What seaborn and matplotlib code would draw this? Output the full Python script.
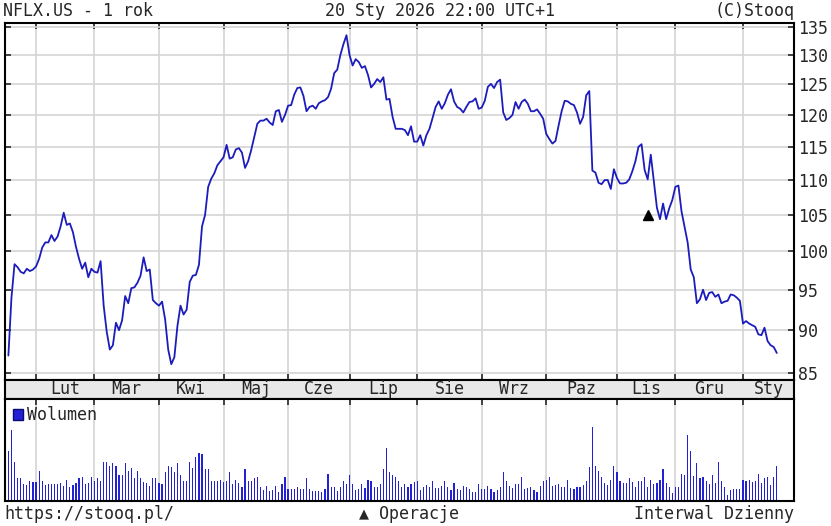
import numpy as np
import pandas as pd
import matplotlib
matplotlib.use('Agg')
import matplotlib.pyplot as plt
from matplotlib.patches import Patch
from matplotlib.ticker import NullLocator
import seaborn as sns

# NFLX.US daily closes (split adjusted)
START, END = '2025-01-21', '2026-01-20'
NYSE_HOLIDAYS = ['2025-02-17', '2025-04-18', '2025-05-26', '2025-06-19', '2025-07-04',
                 '2025-09-01', '2025-11-27', '2025-12-25', '2026-01-01', '2026-01-19']

CLOSE = [
    87.0, 94.0, 98.3, 97.9, 97.3, 97.1, 97.7, 97.4, 97.6, 98.0,
    99.0, 100.5, 101.2, 101.2, 102.2, 101.4, 102.0, 103.4, 105.3, 103.6,
    103.8, 102.6, 100.6, 99.0, 97.7, 98.5, 96.6, 97.7, 97.3, 97.2,
    98.7, 93.0, 89.8, 87.7, 88.2, 90.9, 90.0, 91.2, 94.2, 93.3,
    95.2, 95.3, 95.9, 96.8, 99.2, 97.4, 97.6, 93.7, 93.3, 93.0,
    93.5, 91.3, 87.7, 86.0, 86.8, 90.5, 93.0, 91.9, 92.5, 96.0,
    96.8, 96.9, 98.2, 103.4, 105.0, 109.0, 110.2, 111.0, 112.2, 112.8,
    113.4, 115.3, 113.2, 113.4, 114.6, 114.8, 114.1, 111.8, 112.8, 114.5,
    116.5, 118.6, 119.1, 119.1, 119.4, 118.8, 118.4, 120.6, 120.8, 118.9,
    120.0, 121.5, 121.6, 123.3, 124.4, 124.5, 123.1, 120.6, 121.3, 121.5,
    121.0, 121.9, 122.2, 122.4, 122.9, 124.3, 126.9, 127.5, 130.0, 131.9,
    133.5, 130.0, 128.2, 129.3, 128.8, 127.8, 128.1, 126.6, 124.5, 125.1,
    125.9, 125.4, 126.2, 122.5, 122.6, 119.7, 117.8, 117.8, 117.8, 117.6,
    116.8, 118.2, 115.8, 115.8, 116.8, 115.2, 116.8, 117.8, 119.5, 121.3,
    122.2, 121.0, 121.9, 123.3, 124.2, 122.2, 121.3, 121.0, 120.4, 121.3,
    122.1, 122.2, 122.7, 121.0, 121.2, 122.3, 124.6, 125.1, 124.4, 125.4,
    125.8, 120.4, 119.2, 119.5, 120.0, 122.1, 121.0, 122.1, 122.5, 121.8,
    120.6, 120.6, 120.9, 120.2, 119.4, 117.0, 116.2, 115.5, 115.9, 118.3,
    120.6, 122.3, 122.2, 121.8, 121.6, 120.4, 118.6, 119.7, 123.2, 123.9,
    111.4, 111.1, 109.6, 109.4, 110.0, 110.0, 108.7, 111.6, 110.3, 109.5,
    109.5, 109.6, 110.1, 111.3, 112.8, 115.0, 115.4, 111.5, 110.1, 113.8,
    109.8, 106.0, 104.4, 106.6, 104.4, 105.9, 107.1, 109.0, 109.2, 105.5,
    103.3, 101.2, 97.6, 96.6, 93.3, 93.8, 95.0, 93.7, 94.6, 94.7,
    94.1, 94.4, 93.3, 93.5, 93.6, 94.4, 94.3, 94.0, 93.6, 90.8,
    91.1, 90.8, 90.6, 90.4, 89.5, 89.4, 90.3, 88.7, 88.2, 88.0,
    87.3,
]

# volume bars, relative heights (no scale shown on the chart)
VOLUME = [
    50, 71, 39, 23, 23, 17, 16, 20, 19, 19,
    30, 20, 16, 17, 17, 17, 17, 18, 15, 21,
    14, 16, 18, 23, 24, 17, 18, 24, 20, 23,
    20, 39, 39, 35, 38, 35, 26, 26, 38, 30,
    33, 23, 30, 23, 19, 18, 15, 23, 23, 18,
    17, 29, 35, 34, 29, 38, 26, 20, 20, 39,
    33, 44, 48, 47, 32, 32, 20, 20, 20, 21,
    19, 20, 29, 17, 21, 18, 14, 32, 20, 20,
    23, 24, 14, 11, 15, 10, 11, 15, 9, 17,
    24, 12, 12, 12, 14, 12, 12, 23, 12, 10,
    10, 10, 9, 12, 27, 14, 14, 10, 14, 20,
    17, 26, 17, 11, 12, 17, 13, 21, 20, 14,
    14, 17, 32, 53, 29, 26, 24, 20, 14, 17,
    14, 17, 19, 20, 11, 14, 16, 14, 20, 13,
    13, 15, 20, 14, 11, 18, 12, 11, 15, 14,
    12, 9, 9, 17, 12, 12, 15, 12, 9, 11,
    14, 29, 20, 15, 13, 17, 17, 24, 12, 13,
    14, 11, 9, 15, 20, 21, 24, 15, 16, 17,
    14, 14, 21, 13, 12, 14, 14, 16, 20, 34,
    74, 35, 30, 24, 18, 16, 21, 35, 29, 20,
    18, 18, 23, 19, 14, 20, 20, 24, 14, 21,
    17, 18, 21, 32, 18, 14, 8, 14, 14, 27,
    26, 66, 50, 25, 38, 23, 24, 20, 17, 26,
    18, 39, 20, 14, 6, 11, 12, 12, 12, 21,
    20, 21, 19, 20, 27, 18, 23, 24, 16, 24,
    35,
]

PRICE_TICKS = [85, 90, 95, 100, 105, 110, 115, 120, 125, 130, 135]
MONTHS_PL = ['Sty', 'Lut', 'Mar', 'Kwi', 'Maj', 'Cze', 'Lip', 'Sie', 'Wrz', 'Paz', 'Lis', 'Gru']

# "Operacje" marker (split)
OP_DATE = '2025-11-17'
OP_PRICE = 105.0

LINE_BLUE = '#1c1cbc'
BAR_BLUE = '#2222d4'
GRID = '#d4d4d4'

dates = pd.bdate_range(START, END, freq='C', holidays=NYSE_HOLIDAYS)
df = pd.DataFrame({'date': dates, 'close': CLOSE, 'volume': VOLUME})
df['i'] = np.arange(len(df))

# first session of each month (skip the partial first month)
new_month = df['date'].dt.month != df['date'].dt.month.shift()
month_idx = df.loc[new_month, 'i'].to_numpy()[1:]
month_names = [MONTHS_PL[m - 1] for m in df.loc[new_month, 'date'].dt.month.to_numpy()[1:]]

XLIM = (-1.1, 255.6)
edges = list(month_idx) + [XLIM[1]]
label_pos = [(a + b) / 2 for a, b in zip(edges[:-1], edges[1:])]

sns.set_style('white')
plt.rcParams['font.family'] = ['DejaVu Sans Mono', 'DejaVu Sans']
plt.rcParams['font.size'] = 12

W_PX, H_PX = 831, 526
fig = plt.figure(figsize=(W_PX / 100, H_PX / 100), dpi=100)

def box(l, t, r, b):
    return [l / W_PX, 1 - b / H_PX, (r - l) / W_PX, (b - t) / H_PX]

ax_p = fig.add_axes(box(5, 23, 794, 380))
ax_m = fig.add_axes(box(5, 380, 794, 399))
ax_v = fig.add_axes(box(5, 399, 794, 501))

# price panel
sns.lineplot(data=df, x='i', y='close', ax=ax_p, color=LINE_BLUE, linewidth=1.3)
op_i = df.loc[df['date'] == pd.Timestamp(OP_DATE), 'i'].iloc[0]
ax_p.plot([op_i], [OP_PRICE], marker='^', color='black', markersize=7.5, linestyle='none')
ax_p.set_yscale('log')
ax_p.set_ylim(84.2, 135.7)
ax_p.set_xlim(*XLIM)
ax_p.set_yticks(PRICE_TICKS, labels=[str(t) for t in PRICE_TICKS])
ax_p.yaxis.set_minor_locator(NullLocator())
ax_p.set_xticks(month_idx)
ax_p.tick_params(axis='y', left=True, right=True, labelleft=False, labelright=True,
                 direction='in', length=4, width=1.2, pad=3)
ax_p.tick_params(axis='x', top=True, bottom=True, labelbottom=False,
                 direction='in', length=4, width=1.2)
ax_p.grid(True, color=GRID, linewidth=1.2)
ax_p.set_axisbelow(True)
ax_p.set_xlabel('')
ax_p.set_ylabel('')

# month band
ax_m.set_facecolor('#e8e8e8')
ax_m.set_xlim(*XLIM)
ax_m.set_ylim(0, 1)
ax_m.set_xticks(month_idx)
ax_m.set_yticks([])
ax_m.tick_params(axis='x', bottom=False, labelbottom=False, top=False)
for x, name in zip(label_pos, month_names):
    ax_m.text(x, 0.5, name, ha='center', va='center')

# volume panel
sns.barplot(data=df, x='i', y='volume', ax=ax_v, native_scale=True, width=0.38,
            color=BAR_BLUE, saturation=1, linewidth=0, errorbar=None)
ax_v.set_xlim(*XLIM)
ax_v.set_ylim(0, 102)
ax_v.set_xticks(month_idx)
ax_v.set_yticks([])
ax_v.tick_params(axis='x', top=True, bottom=False, labelbottom=False,
                 direction='in', length=4, width=1.2)
ax_v.grid(True, axis='x', color=GRID, linewidth=1.2)
ax_v.set_axisbelow(True)
ax_v.set_xlabel('')
ax_v.set_ylabel('')
ax_v.legend(handles=[Patch(facecolor=BAR_BLUE, edgecolor='#0a0a70', label='Wolumen')],
            loc='upper left', frameon=False, handlelength=0.6, handleheight=0.6,
            handletextpad=0.25, borderaxespad=0.1, borderpad=0.35)

for ax in (ax_p, ax_m, ax_v):
    for s in ax.spines.values():
        s.set_visible(True)
        s.set_color('black')
        s.set_linewidth(1.5)

# header / footer
fig.text(3 / W_PX, 1 - 11 / H_PX, 'NFLX.US - 1 rok', ha='left', va='center')
fig.text(440 / W_PX, 1 - 11 / H_PX, '20 Sty 2026 22:00 UTC+1', ha='center', va='center')
fig.text(794 / W_PX, 1 - 11 / H_PX, '(C)Stooq', ha='right', va='center')
fig.text(4 / W_PX, 1 - 514 / H_PX, 'https://stooq.pl/', ha='left', va='center')
fig.text(409 / W_PX, 1 - 514 / H_PX, '\u25b2 Operacje', ha='center', va='center')
fig.text(794 / W_PX, 1 - 514 / H_PX, 'Interwal Dzienny', ha='right', va='center')

fig.savefig('out.png', dpi=100)
